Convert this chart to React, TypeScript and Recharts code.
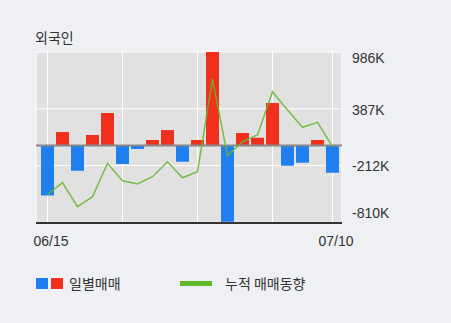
import React from 'react';
import {
  ComposedChart,
  Bar,
  Line,
  XAxis,
  YAxis,
  CartesianGrid,
  ReferenceLine,
  Cell,
} from 'recharts';

const categories = [
  '06/15', '06/16', '06/17', '06/18', '06/19',
  '06/22', '06/23', '06/24', '06/25', '06/26',
  '06/29', '06/30', '07/01', '07/02', '07/03',
  '07/06', '07/07', '07/08', '07/09', '07/10',
];

const dailyNet = [
  -527000, 142000, -266000, 111000, 343000,
  -195000, -37000, 58000, 163000, -171000,
  58000, 986000, -803000, 132000, 82000,
  448000, -213000, -181000, 58000, -287000,
];

const cumulativeTrend = [
  -515000, -392000, -645000, -540000, -188000,
  -371000, -406000, -329000, -171000, -340000,
  -276000, 701000, -108000, 40000, 111000,
  567000, 374000, 192000, 245000, -11000,
];

const yTicks = [986000, 387000, -212000, -810000];
const xTicks = ['06/15', '06/22', '06/29', '07/06', '07/10'];
const xLabels = ['06/15', '07/10'];

const title = '외국인';
const legendDaily = '일별매매';
const legendCum = '누적 매매동향';

const data = categories.map((d, i) => ({
  date: d,
  daily: dailyNet[i],
  cum: cumulativeTrend[i],
}));

const BLUE = '#1f7ef0';
const RED = '#f0301c';
const GREEN = '#62b92e';
const TEXT = '#333333';
const FONT = '"Noto Sans CJK KR", "Noto Sans", sans-serif';
const NUMFONT = '"Liberation Sans", Arial, sans-serif';

const fmt = (v: number) => `${Math.round(v / 1000)}K`;

const YTick = (props: any) => {
  const { x, y, payload } = props;
  let dy = 0.5;
  if (payload.value === yTicks[0]) dy = 6;
  else if (payload.value === yTicks[1]) dy = 1;
  else if (payload.value === yTicks[yTicks.length - 1]) dy = -9;
  return (
    <text
      x={x}
      y={y + dy}
      dominantBaseline="central"
      textAnchor="start"
      fill={TEXT}
      fontSize={14}
      fontFamily={NUMFONT}
    >
      {fmt(payload.value)}
    </text>
  );
};

const XTick = (props: any) => {
  const { x, y, payload } = props;
  if (!xLabels.includes(payload.value)) return null;
  return (
    <text
      x={x + 3.5}
      y={y + 10}
      dominantBaseline="central"
      textAnchor="middle"
      fill={TEXT}
      fontSize={14}
      fontFamily={NUMFONT}
    >
      {payload.value}
    </text>
  );
};

export default function App() {
  return (
    <div
      style={{
        position: 'absolute',
        left: 0,
        top: 0,
        width: 451,
        height: 323,
        background: '#eef0f4',
        overflow: 'hidden',
      }}
    >
      <div
        style={{
          position: 'absolute',
          left: 35,
          top: 27,
          lineHeight: '20px',
          fontSize: 14,
          fontFamily: FONT,
          color: TEXT,
        }}
      >
        {title}
      </div>
      <ComposedChart
        width={451}
        height={323}
        data={data}
        margin={{ top: 52, right: 0, bottom: 70, left: 36 }}
      >
        <CartesianGrid
          yAxisId="right"
          fill="#e1e1e1"
          stroke="#ffffff"
          strokeWidth={1}
        />
        <XAxis
          dataKey="date"
          ticks={xTicks}
          interval={0}
          tick={<XTick />}
          tickLine={false}
          axisLine={{ stroke: '#333', strokeWidth: 2 }}
          padding={{ left: 4, right: 2 }}
          height={30}
        />
        <YAxis
          yAxisId="left"
          orientation="left"
          width={0}
          domain={[-817000, 986000]}
          allowDataOverflow
          tick={false}
          tickLine={false}
          axisLine={{ stroke: '#333', strokeWidth: 2 }}
        />
        <YAxis
          yAxisId="right"
          orientation="right"
          width={109}
          domain={[-817000, 986000]}
          allowDataOverflow
          ticks={yTicks}
          interval={0}
          tick={<YTick />}
          tickLine={false}
          tickSize={6}
          tickMargin={4}
          axisLine={false}
        />
        <Bar
          yAxisId="right"
          dataKey="daily"
          barSize={13}
          isAnimationActive={false}
        >
          {data.map((d, i) => (
            <Cell key={i} fill={d.daily >= 0 ? RED : BLUE} />
          ))}
        </Bar>
        <ReferenceLine yAxisId="right" y={0} stroke="#888888" strokeWidth={2} />
        <Line
          yAxisId="right"
          type="linear"
          dataKey="cum"
          stroke={GREEN}
          strokeWidth={1.5}
          strokeOpacity={0.85}
          dot={false}
          activeDot={false}
          isAnimationActive={false}
        />
      </ComposedChart>
      <div
        style={{
          position: 'absolute',
          left: 36,
          top: 273,
          height: 20,
          display: 'flex',
          alignItems: 'center',
          fontFamily: FONT,
          fontSize: 14,
          color: TEXT,
        }}
      >
        <span style={{ width: 12, height: 11, background: BLUE, display: 'inline-block' }} />
        <span style={{ width: 12, height: 11, background: RED, display: 'inline-block', marginLeft: 3 }} />
        <span style={{ marginLeft: 6, lineHeight: '20px' }}>{legendDaily}</span>
      </div>
      <div
        style={{
          position: 'absolute',
          left: 180,
          top: 273,
          height: 20,
          display: 'flex',
          alignItems: 'center',
          fontFamily: FONT,
          fontSize: 14,
          color: TEXT,
        }}
      >
        <span style={{ width: 32, height: 5, background: GREEN, display: 'inline-block' }} />
        <span style={{ marginLeft: 13, lineHeight: '20px' }}>{legendCum}</span>
      </div>
    </div>
  );
}
